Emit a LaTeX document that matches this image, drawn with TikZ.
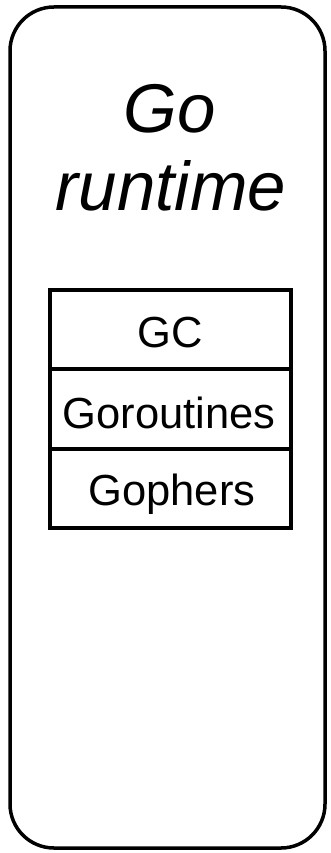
\documentclass[tikz,border=0pt]{standalone}
\usepackage{fontspec}
\setmainfont{Liberation Sans}
\begin{document}
\begin{tikzpicture}[x=1pt,y=-1pt,
  frame/.style={draw=black,line width=3.5pt},
  cell/.style={draw=black,line width=3.5pt,minimum width=241pt,minimum height=79.3pt,inner sep=0pt},
  lbl/.style={font=\fontsize{43.5}{43.5}\selectfont,anchor=base},
  title/.style={font=\fontsize{69}{69}\selectfont\itshape,anchor=base}]
\useasboundingbox (0,0) rectangle (331,853);
% outer runtime container
\draw[frame,rounded corners=44pt] (10,7) rectangle (325,848);
% title
\node[title] (go) at (170,133) {Go};
\node[title] (rt) at (171,210) {runtime};
% stacked component cells
\node[cell] (gc) at (170.5,329.5) {};
\node[cell] (gor) at (170.5,409) {};
\node[cell] (gop) at (170.5,488.5) {};
\node[lbl] (gct) at (170,347) {GC};
\node[lbl] (gort) at (169,428) {Goroutines};
\node[lbl] (gopt) at (172,505) {Gophers};
\end{tikzpicture}
\end{document}
